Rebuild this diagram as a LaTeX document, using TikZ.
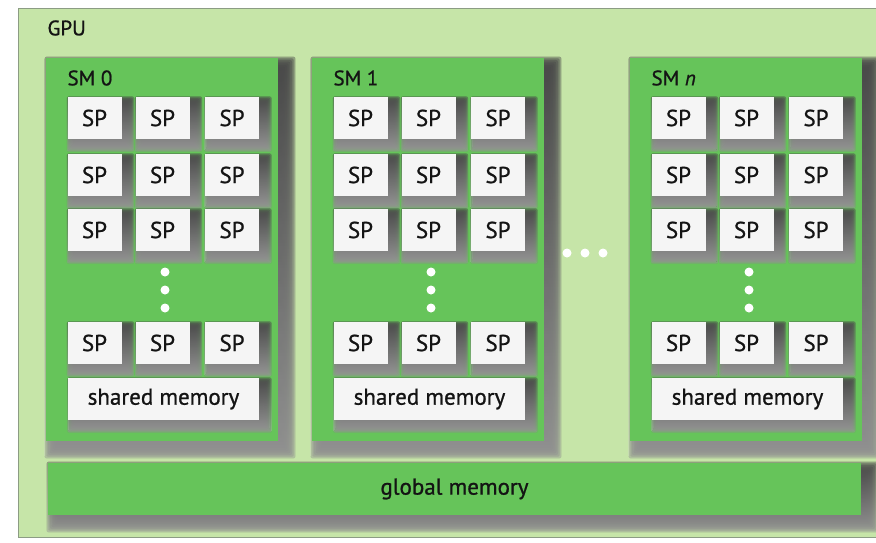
\documentclass[tikz,border=0pt]{standalone}
\usepackage{fontspec}
\setmainfont{PT Sans}[FakeBold=0.9]
\usetikzlibrary{calc}
\definecolor{gpubg}{HTML}{C6E5A8}
\definecolor{gpuline}{HTML}{8C9C84}
\definecolor{smgreen}{HTML}{66C45A}
\definecolor{shade}{HTML}{1C6012}
\definecolor{spwhite}{HTML}{F5F5F5}
\definecolor{ink}{HTML}{141414}
\pgfdeclarelayer{frame}
\pgfdeclarelayer{smshade}
\pgfdeclarelayer{sm}
\pgfdeclarelayer{spshade}
\pgfsetlayers{frame,smshade,sm,spshade,main}
\tikzset{
  smbox/.style={fill=smgreen, draw=none, minimum width=232pt, minimum height=383pt,
    inner sep=0pt},
  spbox/.style={fill=spwhite, draw=none, minimum width=54pt, minimum height=42pt,
    inner sep=0pt, text=ink, font=\fontsize{23}{25}\selectfont},
  membox/.style={spbox, minimum width=191pt},
  globalbox/.style={fill=smgreen, draw=none, minimum width=813pt, minimum height=52pt,
    inner sep=0pt},
  title/.style={anchor=west, text=ink, font=\fontsize{21}{24}\selectfont},
  dot/.style={circle, fill=white, draw=none, minimum size=9pt, inner sep=0pt},
}
% soft shadow of a node: #1 node, #2 offset, #3 blur radius, #4 layer opacity
\newcommand\softshade[4]{%
  \foreach \i in {1,...,12} {
    \pgfmathsetmacro\e{-#3+2*#3*(\i-0.5)/12}
    \fill[shade, opacity=#4, rounded corners=2pt]
      ($(#1.north west)+(#2-\e,#2-\e)$) rectangle ($(#1.south east)+(#2+\e,#2+\e)$);
  }%
}
\begin{document}
\begin{tikzpicture}[x=1pt, y=-1pt]
  \useasboundingbox (0,0) rectangle (876,542);
  % page and GPU frame
  \begin{pgfonlayer}{frame}
    \fill[white] (0,0) rectangle (876,542);
    \node[fill=gpubg, draw=gpuline, line width=1.2pt, minimum width=890pt,
          minimum height=529pt, inner sep=0pt, anchor=north west] (gpu) at (18,8) {};
  \end{pgfonlayer}
  \node[title] (gpulab) at (44,28) {GPU};

  % streaming multiprocessors
  \foreach \k/\dx/\lab in {0/0/SM 0, 1/266/SM 1, n/584/SM \textit{n}} {
    \begin{pgfonlayer}{sm}
      \node[smbox] (sm\k) at (162+\dx,249.5) {};
    \end{pgfonlayer}
    \node[title] (sm\k lab) at (64+\dx,78) {\lab};
    \foreach \c/\cx in {1/94.5, 2/162.5, 3/232} {
      \foreach \r/\ry in {1/118, 2/175, 3/230, 4/343} {
        \node[spbox] (sp\k-\r-\c) at (\cx+\dx,\ry) {SP};
      }
    }
    \foreach \d/\dy in {1/272, 2/290, 3/308} {
      \node[dot] (vd\k-\d) at (165+\dx,\dy) {};
    }
    \node[membox] (mem\k) at (163.5+\dx,399) {shared memory};
  }

  % gap between SM 1 and SM n
  \foreach \d/\hx in {1/567, 2/585, 3/603} {
    \node[dot] (hd\d) at (\hx,253) {};
  }

  \begin{pgfonlayer}{sm}
    \node[globalbox] (global) at (454.5,489) {};
  \end{pgfonlayer}
  \node[font=\fontsize{23}{25}\selectfont, text=ink] (globallab) at (global) {global memory};

  % shadows of the blocks
  \begin{pgfonlayer}{smshade}
    \foreach \k in {0,1,n} { \softshade{sm\k}{8}{10}{0.25} }
    \softshade{global}{8}{10}{0.25}
  \end{pgfonlayer}
  \begin{pgfonlayer}{spshade}
    \foreach \k in {0,1,n} {
      \foreach \c in {1,2,3} {
        \foreach \r in {1,2,3,4} { \softshade{sp\k-\r-\c}{6}{7}{0.3} }
      }
      \softshade{mem\k}{6}{7}{0.3}
    }
  \end{pgfonlayer}
\end{tikzpicture}
\end{document}
